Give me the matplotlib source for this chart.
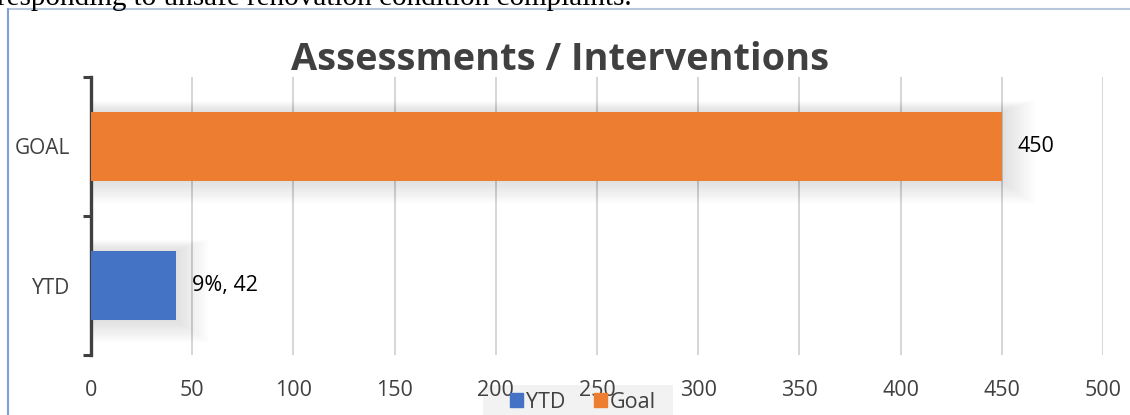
import matplotlib
matplotlib.use("Agg")
import matplotlib.pyplot as plt
from matplotlib.lines import Line2D
from matplotlib.patches import Rectangle

categories = ["YTD", "GOAL"]
values = [42, 450]
colors = ["#4472C4", "#ED7D31"]
bar_labels = ["9%, 42", "450"]
legend_labels = ["YTD", "Goal"]
xticks = [0, 50, 100, 150, 200, 250, 300, 350, 400, 450, 500]
title = "Assessments / Interventions"
header = "responding to unsafe renovation condition complaints."

W, H = 1130, 415
FONT = ["Open Sans", "DejaVu Sans"]
fig = plt.figure(figsize=(W / 100, H / 100), dpi=100)
fig.patch.set_facecolor("white")

ax = fig.add_axes([91 / W, 1 - 355 / H, (1103 - 91) / W, (355 - 77) / H])
ax.set_xlim(0, 500)
ax.set_ylim(-0.5, 1.5)

# soft shadows behind bars
for i, v in enumerate(values):
    for k in range(10):
        d = 1.6 * (k + 1)
        ax.add_patch(Rectangle((0, i - 0.25 - 0.016 * (k + 1)), v + d, 0.5 + 0.024 * (k + 1),
                               facecolor="black", alpha=0.010, edgecolor="none", zorder=1.5))

ax.barh(range(len(categories)), values, height=0.5, color=colors, zorder=3)

for i, (v, lab) in enumerate(zip(values, bar_labels)):
    ax.text(v + 8, i, lab, va="center", ha="left", fontsize=15.5, color="black",
            family=FONT, zorder=4)

ax.set_xticks(xticks)
ax.set_xticklabels([str(t) for t in xticks], fontsize=15.5, color="#404040", family=FONT)
ax.tick_params(axis="x", length=0, pad=18)
ax.grid(axis="x", color="#d0d0d0", linewidth=1.2, zorder=0)
ax.set_axisbelow(True)

ax.set_yticks([-0.5, 0.5, 1.5])
ax.set_yticklabels([])
ax.set_yticks([0, 1], minor=True)
ax.set_yticklabels(categories, minor=True, fontsize=15, color="#404040", family=FONT)
ax.tick_params(axis="y", which="major", length=6, width=2.2, color="#404040")
ax.tick_params(axis="y", which="minor", length=0, pad=15)

for s in ["top", "right", "bottom"]:
    ax.spines[s].set_visible(False)
ax.spines["left"].set_linewidth(2.4)
ax.spines["left"].set_color("#404040")

fig.text(560 / W, 1 - 60 / H, title, ha="center", va="center", fontsize=27.3,
         fontweight="bold", color="#404040", family=FONT)

fig.text(-3 / W, 1 - 5 / H, header, ha="left", va="baseline", fontsize=21,
         color="black", family=["Liberation Serif", "DejaVu Serif"])

# document frame lines
fig.add_artist(Line2D([8 / W, 1], [1 - 9 / H, 1 - 9 / H], color="#b8c8dc", linewidth=1.5))
fig.add_artist(Line2D([8 / W, 8 / W], [0, 1 - 9 / H], color="#7f9fd8", linewidth=1.5))

# legend
fig.add_artist(Rectangle((483 / W, 0), (673 - 483) / W, 30 / H, transform=fig.transFigure,
                         facecolor="#f2f2f2", edgecolor="none", zorder=0))
leg = fig.legend(handles=[Rectangle((0, 0), 1, 1, color=c) for c in colors],
                 labels=legend_labels, loc="center", bbox_to_anchor=(583 / W, 1 - 402 / H),
                 ncol=2, frameon=False, handlelength=0.6, handleheight=0.6,
                 handletextpad=0.15, columnspacing=1.3,
                 prop={"family": FONT, "size": 15.5})
for t in leg.get_texts():
    t.set_color("#404040")

fig.savefig("out.png", dpi=100)
